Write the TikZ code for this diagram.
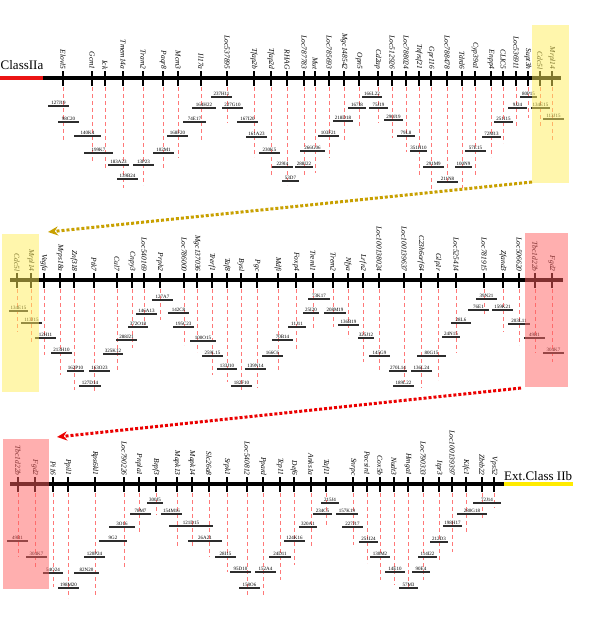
\documentclass[tikz,border=0pt]{standalone}
\usepackage{fontspec}
\setmainfont{Liberation Serif}
\usetikzlibrary{arrows.meta}
\definecolor{dashred}{RGB}{255,120,120}
\definecolor{clonegray}{RGB}{45,45,45}
\definecolor{goldarrow}{RGB}{200,160,0}
\definecolor{redarrow}{RGB}{235,0,0}
\definecolor{hlyellow}{RGB}{255,238,90}
\definecolor{hlred}{RGB}{255,95,95}
\definecolor{classred}{RGB}{235,20,20}
\definecolor{classyellow}{RGB}{255,235,0}
\tikzset{
 mainline/.style={line width=3.5pt},
 genetick/.style={line width=1.3pt},
 genedash/.style={draw=dashred, line width=0.6pt, dash pattern=on 4pt off 3pt},
 genelbl/.style={rotate=-90, anchor=east, inner sep=0.8pt, font=\fontsize{7.5}{8}\selectfont\itshape},
 clonebar/.style={line width=1.1pt, draw=clonegray},
 clonelbl/.style={anchor=south, inner sep=0.4pt, font=\fontsize{5}{5}\selectfont},
 rowlabel/.style={anchor=base west, inner sep=0pt, font=\fontsize{13}{14}\selectfont},
 hlbox/.style={fill opacity=0.5, draw=none},
 flowarrow/.style={line width=3pt, dash pattern=on 3pt off 2pt, -{Stealth[length=10pt,width=9pt]}}
}
\newcommand\genemark[5]{% #1 row, #2 x, #3 line y, #4 dash end, #5 name
  \draw[genedash] (#2,#3+9) -- (#2,#4);
  \draw[genetick] (#2,#3-7) -- (#2,#3+8);
  \node[genelbl] (#1-#5) at (#2,#3-7.5) {#5};
}
\newcommand\clonemark[5]{% #1 row, #2 x1, #3 x2, #4 y, #5 name
  \draw[clonebar] (#2,#4) -- (#3,#4);
  \node[clonelbl] (#1c-#5) at ({(#2+#3)/2},#4-0.6) {#5};
}
\begin{document}
\begin{tikzpicture}[x=1pt,y=-1pt]
\useasboundingbox (0,0) rectangle (600,618);
% ---------------- Row 1
\def\lya{78}
\foreach \x/\e/\n in {63/140/Elovl5,92/163/Gcm1,105/170/Ick,123/188/Tmem14a,143/185/Tram2,163/170/Paqr8,178/158/Mcm3,201/140/Il17a,227/123/Loc537895,254/157/Tfap2b,271/175/Tfap2d,287/185/RHAG,304/177/Loc787783,315/173/Mut,329/158/Loc785693,344/140/Mgc148542,359/128/Opn5,378/123/Cd2ap,392/138/Loc512926,406/152/Loc788024,419/175/Tnfrsf21,431/190/Gpr116,447/183/Loc788478,462/188/Tdrd6,475/177/Cyp39a1,491/157/Enpp4,503/143/CLIC5,516/128/Loc536911,528/118/Supt3h,540/127/Cdc5l,552/140/Mrpl14}
  {\genemark{ra}{\x}{\lya}{\e}{\n}}
\draw[mainline,classred] (0,\lya) -- (43,\lya);
\draw[mainline] (43,\lya) -- (561,\lya);
\foreach \x in {63,92,105,123,143,163,178,201,227,254,271,287,304,315,329,344,359,378,392,406,419,431,447,462,475,491,503,516,528,540,552}
  {\draw[genetick] (\x,\lya-7) -- (\x,\lya+8);}
\node[rowlabel] (classIIa) at (0.5,70) {ClassIIa};
\foreach \a/\b/\y/\n in {48/69/106/127J19,58/79/122/98C20,74/101/136/140K4,84/113/153/199K7,108/129/165/183A23,133/154/165/13P23,117/138/179/139B24,211/232/97/237H11,192/216/108/164H22,222/243/108/227G10,183/206/122/74E17,237/258/122/167I20,167/188/136/168F20,246/267/137/161A23,153/174/153/102M1,259/280/153/230K5,272/293/167/229I4,295/313/167/288I22,282/299/181/53D7,300/325/151/266G06,362/382/97/166L22,348/366/108/167I8,369/388/108/75J19,333/353/121/218D18,384/403/120/290J19,318/339/136/103F21,397/415/136/79L8,410/427/151/351H10,423/444/167/291M9,455/472/167/100N9,437/458/182/211N8,520/537/97/80P15,508/527/108/9J24,531/550/108/134E15,543/564/119/113J15,494/513/122/251I15,482/501/137/72M13,465/486/151/57E15}
  {\clonemark{ra}{\a}{\b}{\y}{\n}}
\fill[hlbox,hlyellow] (532,25) rectangle (569,183);
% ---------------- Row 2
\def\lyb{280}
\foreach \x/\e/\n in {17/332/Cdc5l,31/343/Mrpl14,44/355/Vegfa,60/375/Mrps18a,74/390/Znf318,94/392/Ptk7,117/372/Cul7,132/348/Cnpy3,144/325/Loc540169,160/320/Prph2,184/345/Loc786000,197/352/Mgc137036,212/375/Trerf1,227/382/Taf8,241/390/Bysl,257/388/Pgc,278/370/Mdfi,296/350/Foxp4,313/328/Treml1,333/327/Trem2,348/338/Nfya,363/362/Lrfn2,379/372/Loc100138024,404/382/Loc100139637,421/388/C23h6orf64,438/380/Glp1r,456/353/Loc525414,484/315/Loc781915,503/332/Zfand3,519/345/Loc506620,535/353/Tbc1d22b,552/362/Fgd2}
  {\genemark{rb}{\x}{\lyb}{\e}{\n}}
\draw[mainline] (10,\lyb) -- (563,\lyb);
\foreach \x in {17,31,44,60,74,94,117,132,144,160,184,197,212,227,241,257,278,296,313,333,348,363,379,404,421,438,456,484,503,519,535,552}
  {\draw[genetick] (\x,\lyb-7) -- (\x,\lyb+8);}
\foreach \a/\b/\y/\n in {9/28/311/134E15,21/42/323/113J15,35/56/338/12H11,51/72/353/213H10,67/84/371/162P10,89/110/371/163O23,79/101/386/127D14,103/123/354/325K12,116/137/340/288J21,128/148/327/372O18,136/157/314/146A13,152/173/300/127A7,168/189/313/142C8,173/194/327/195C23,190/216/341/100O15,202/223/356/259L15,217/237/369/133J10,245/266/369/139N14,231/252/386/182F10,262/283/356/166C6,272/293/340/70B14,288/306/327/11J11,303/319/313/25I20,308/330/299/73K17,324/346/313/208M19,338/359/325/136B19,358/374/338/325J12,369/390/356/145G9,389/407/371/270L14,393/414/386/189L22,411/432/371/136L24,417/446/356/80G15,442/460/337/24N15,451/471/323/28L6,476/497/299/39N21,468/489/310/76E1,492/513/310/159K21,508/530/324/203L11,524/545/338/49B1,543/564/353/304K7}
  {\clonemark{rb}{\a}{\b}{\y}{\n}}
\fill[hlbox,hlyellow] (2,234) rectangle (39,392);
\fill[hlbox,hlred] (525,233) rectangle (568,387);
% ---------------- Row 3
\def\lyc{484}
\foreach \x/\e/\n in {18/557/Tbc1d22b,35/567/Fgd2,53/587/Pi16,68/598/Ppil1,95/597/Rps6kl1,124/567/Loc790226,139/533/Pnpla1,156/515/Brpf3,177/548/Mapk13,192/547/Mapk14,209/557/Slc26a8,227/572/Srpk1,247/597/Loc540812,263/597/Ppard,280/580/Tcp11,294/565/Def6,311/547/Anks1a,326/527/Taf11,353/545/Snrpc,367/563/Pacsin1,380/580/Cox5b,394/585/Nudt3,408/590/Hmga1,423/580/Loc790333,439/562/Itpr3,452/552/Loc100139397,466/532/Kifc1,482/518/Zbtb22,494/508/Vps52}
  {\genemark{rc}{\x}{\lyc}{\e}{\n}}
\draw[mainline] (10,\lyc) -- (504,\lyc);
\draw[mainline,classyellow] (504,\lyc) -- (573,\lyc);
\foreach \x in {18,35,53,68,95,124,139,156,177,192,209,227,247,263,280,294,311,326,353,367,380,394,408,423,439,452,466,482,494}
  {\draw[genetick] (\x,\lyc-7) -- (\x,\lyc+8);}
\node[rowlabel] (extIIb) at (504,480) {Ext.Class IIb};
\foreach \a/\b/\y/\n in {7/28/541/49B1,26/47/557/304K7,43/63/573/54O24,58/79/588/198M20,74/99/573/82N20,84/105/557/120P24,99/127/541/9G2,109/135/527/3O16,130/151/514/78M7,147/163/503/300J5,161/182/514/154M16,169/213/526/121D15,188/222/541/26A21,215/236/557/28I15,230/251/572/95D10,255/276/572/152A4,239/260/588/158O6,269/291/557/24D11,284/305/541/124K16,299/317/527/320A1,321/339/503/215J4,313/332/514/234C5,336/358/514/157K19,342/363/527/227J17,359/378/542/251I24,370/390/557/130M2,385/405/572/14E10,399/418/588/57M3,412/430/572/90E4,418/437/557/114I22,430/448/542/212D3,443/462/526/198H17,457/487/514/280G18,473/501/503/72J14}
  {\clonemark{rc}{\a}{\b}{\y}{\n}}
\fill[hlbox,hlred] (3,439) rectangle (49,589);
% ---------------- connecting arrows
\coordinate (yfrom) at (532,182);
\coordinate (yto) at (48,232);
\coordinate (rfrom) at (521,388);
\coordinate (rto) at (57,437);
\draw[flowarrow,goldarrow] (yfrom) -- (yto);
\draw[flowarrow,redarrow] (rfrom) -- (rto);
\end{tikzpicture}
\end{document}
